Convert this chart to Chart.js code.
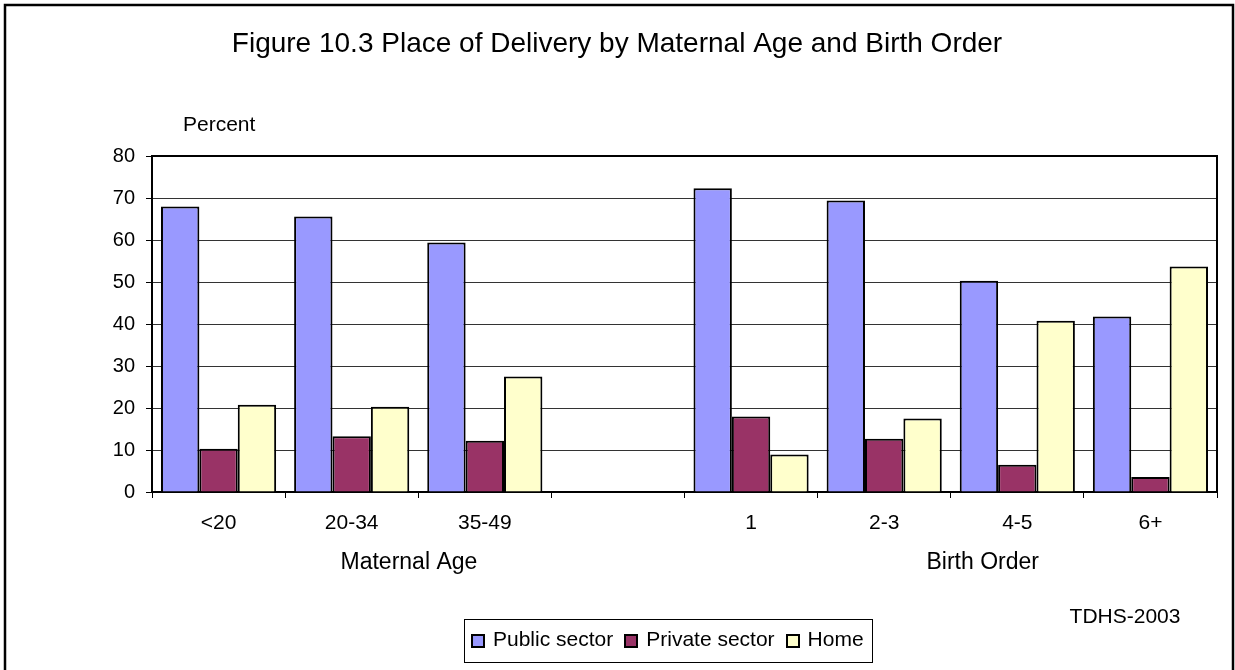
<!DOCTYPE html>
<html>
<head>
<meta charset="utf-8">
<script src="https://cdn.jsdelivr.net/npm/chart.js@4.4.0/dist/chart.umd.min.js"></script>
<style>
  html, body { margin: 0; padding: 0; background: #fff; }
  #wrap { width: 1235px; height: 670px; }
</style>
</head>
<body>
<div id="wrap"><canvas id="chart" width="1235" height="670"></canvas></div>
<script>
// values (percent)
const categories = ['<20', '20-34', '35-49', '', '1', '2-3', '4-5', '6+'];
const publicSector = [68.0, 65.6, 59.4, null, 72.3, 69.4, 50.3, 41.8];
const privateSector = [10.3, 13.3, 12.2, null, 18.0, 12.7, 6.5, 3.6];
const home = [20.8, 20.3, 27.5, null, 8.9, 17.5, 40.8, 53.7];
const seriesNames = ['Public sector', 'Private sector', 'Home'];
const groupNames = ['Maternal Age', 'Birth Order'];
const yMin = 0, yMax = 80, yStep = 10;

const FONT = '"Liberation Sans", Arial, sans-serif';
const colors = ['#9999FF', '#993366', '#FFFFCC'];

const decorations = {
  id: 'decorations',
  beforeDraw(chart) {
    const ctx = chart.ctx;
    ctx.save();
    ctx.fillStyle = '#fff';
    ctx.fillRect(0, 0, chart.width, chart.height);
    ctx.restore();
  },
  afterDraw(chart) {
    const ctx = chart.ctx;
    const area = chart.chartArea;
    const x = chart.scales.x;
    ctx.save();

    // plot area top / right border
    ctx.strokeStyle = '#000';
    ctx.lineWidth = 2;
    ctx.beginPath();
    ctx.moveTo(area.left, area.top);
    ctx.lineTo(area.right, area.top);
    ctx.lineTo(area.right, area.bottom);
    ctx.stroke();

    // outer frame
    ctx.lineWidth = 2.5;
    ctx.strokeRect(5, 5, chart.width - 7, chart.height + 10);

    ctx.fillStyle = '#000';
    ctx.textBaseline = 'middle';

    // title
    ctx.font = '28px ' + FONT;
    ctx.textAlign = 'center';
    ctx.fillText('Figure 10.3 Place of Delivery by Maternal Age and Birth Order', 617, 44);

    // y-axis caption
    ctx.font = '21px ' + FONT;
    ctx.textAlign = 'left';
    ctx.fillText('Percent', 183, 125);

    // group labels under the categories
    ctx.font = '23px ' + FONT;
    ctx.textAlign = 'center';
    ctx.fillText(groupNames[0], x.getPixelForValue(1.43), 563);
    ctx.fillText(groupNames[1], x.getPixelForValue(5.74), 563);

    // source note
    ctx.font = '21px ' + FONT;
    ctx.fillText('TDHS-2003', 1125, 617);

    // legend
    ctx.font = '21px ' + FONT;
    const sw = 12, gap = 9, itemGap = 12, padX = 8;
    const widths = seriesNames.map(n => ctx.measureText(n).width);
    const total = widths.reduce((a, b) => a + b, 0) + seriesNames.length * (sw + gap) + (seriesNames.length - 1) * itemGap;
    const boxW = total + padX * 2, boxH = 43;
    const boxL = 464, boxT = 619;
    ctx.lineWidth = 1;
    ctx.strokeStyle = '#000';
    ctx.strokeRect(boxL + 0.5, boxT + 0.5, Math.round(boxW), boxH);
    let cx = boxL + padX;
    const cy = boxT + boxH / 2;
    ctx.textAlign = 'left';
    ctx.lineWidth = 2;
    seriesNames.forEach((n, i) => {
      const sx = Math.round(cx), sy = Math.round(cy - sw / 2);
      ctx.fillStyle = colors[i];
      ctx.fillRect(sx, sy, sw, sw);
      ctx.strokeRect(sx, sy, sw, sw);
      cx += sw + gap;
      ctx.fillStyle = '#000';
      ctx.fillText(n, cx, cy);
      cx += widths[i] + itemGap;
    });

    ctx.restore();
  }
};

new Chart(document.getElementById('chart'), {
  type: 'bar',
  data: {
    labels: categories,
    datasets: [
      { label: seriesNames[0], data: publicSector, backgroundColor: colors[0] },
      { label: seriesNames[1], data: privateSector, backgroundColor: colors[1] },
      { label: seriesNames[2], data: home, backgroundColor: colors[2] },
    ].map(d => Object.assign(d, { borderColor: '#000', borderWidth: 2, categoryPercentage: 0.865, barPercentage: 1 })),
  },
  options: {
    responsive: false,
    animation: false,
    devicePixelRatio: 1,
    layout: { padding: { top: 156, right: 18, left: 0, bottom: 0 } },
    plugins: {
      legend: { display: false },
      title: { display: false },
      tooltip: { enabled: false },
    },
    scales: {
      x: {
        ticks: { color: '#000', font: { family: FONT, size: 21 }, padding: 13, autoSkip: false, maxRotation: 0 },
        grid: { offset: true, drawOnChartArea: false, color: '#000', tickLength: 6 },
        border: { color: '#000', width: 2 },
        afterFit(s) { s.height = 178; },
      },
      y: {
        min: yMin,
        max: yMax,
        ticks: { stepSize: yStep, color: '#000', font: { family: FONT, size: 20 }, padding: 11 },
        grid: { color: '#333', tickColor: '#000', tickLength: 6 },
        border: { color: '#000', width: 2 },
        afterFit(s) { s.width = 152; },
      },
    },
  },
  plugins: [decorations],
});
</script>
</body>
</html>
